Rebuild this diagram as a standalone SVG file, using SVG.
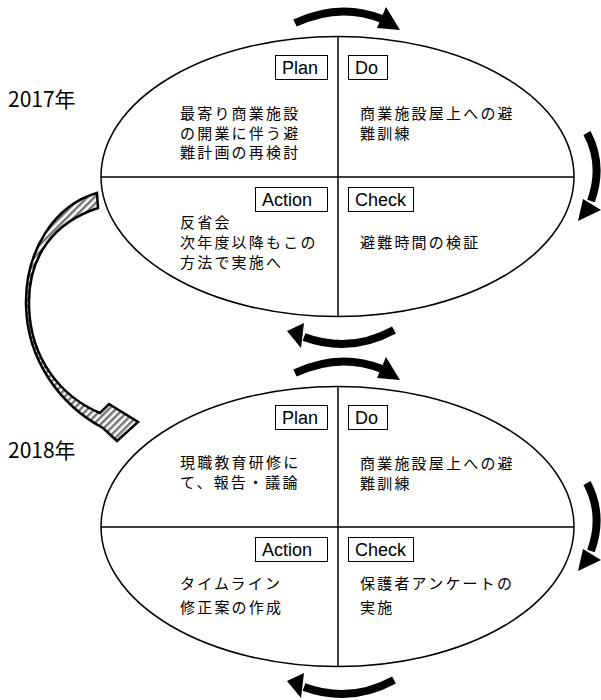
<svg xmlns="http://www.w3.org/2000/svg" width="601" height="700" viewBox="0 0 601 700">
<style>
.ell{fill:#fff;stroke:#000;stroke-width:1.5}
.div{stroke:#000;stroke-width:1.5;fill:none}
.box{fill:#fff;stroke:#000;stroke-width:1}
.lbl{font-family:"Liberation Sans",Arial,sans-serif;font-size:18px;fill:#000}
.jp{font-family:"Noto Sans CJK JP","Noto Sans",sans-serif;font-size:15px;letter-spacing:2.2px;fill:#000}
.yr{font-family:"Noto Sans CJK JP","Noto Sans",sans-serif;font-size:21px;fill:#000}
.band{fill:none;stroke:#000;stroke-width:8}
.head{fill:#000}
</style>
<defs>
<pattern id="hatch" width="5" height="5" patternUnits="userSpaceOnUse" patternTransform="rotate(45)">
<rect width="5" height="5" fill="#fff"/>
<rect width="2.5" height="5" fill="#777"/>
</pattern>
<g id="cycleArrows">
<path class="band" d="M295,23 Q340,2 382,19"/>
<polygon class="head" points="386,7 400,30 377,28"/>
<path class="band" d="M587,133 Q604,165 591,201"/>
<polygon class="head" points="583,199 601,210 578,221"/>
<path class="band" d="M394,330 Q350,354 304,337"/>
<polygon class="head" points="304,323 287,331 301,348"/>
</g>
</defs>

<g id="connectors">
<use href="#cycleArrows"/>
<use href="#cycleArrows" transform="translate(0,350)"/>
<path id="year-arrow" d="M97,193 C55,205 25,250 26,305 C27,360 60,405 103,428 L117,441 L138,422 L109,404 L100,413 C62,397 30,360 29,305 C28,255 55,222 98,208 Z" fill="url(#hatch)" stroke="#000" stroke-width="2.5" stroke-linejoin="miter"/>
</g>

<g id="year2017"><text class="yr" x="8" y="107">2017年</text></g>
<g id="year2018"><text class="yr" x="8" y="458">2018年</text></g>

<g id="cycle2017">
<ellipse class="ell" cx="337.5" cy="176.5" rx="236.5" ry="140"/>
<line class="div" x1="101" y1="177" x2="574" y2="177"/>
<line class="div" x1="338" y1="36.5" x2="338" y2="316.5"/>
<g id="plan2017">
<rect class="box" x="275.5" y="55.5" width="52" height="24"/>
<text class="lbl" x="282" y="74">Plan</text>
<text class="jp" x="180" y="119">最寄り商業施設</text>
<text class="jp" x="180" y="139">の開業に伴う避</text>
<text class="jp" x="180" y="158">難計画の再検討</text>
</g>
<g id="do2017">
<rect class="box" x="348.5" y="55.5" width="39" height="24"/>
<text class="lbl" x="355" y="74">Do</text>
<text class="jp" x="360" y="119">商業施設屋上への避</text>
<text class="jp" x="360" y="139">難訓練</text>
</g>
<g id="action2017">
<rect class="box" x="255.5" y="187.5" width="72" height="24"/>
<text class="lbl" x="262" y="206">Action</text>
<text class="jp" x="180" y="228">反省会</text>
<text class="jp" x="180" y="248">次年度以降もこの</text>
<text class="jp" x="180" y="268">方法で実施へ</text>
</g>
<g id="check2017">
<rect class="box" x="348.5" y="187.5" width="65" height="24"/>
<text class="lbl" x="355" y="206">Check</text>
<text class="jp" x="360" y="248">避難時間の検証</text>
</g>
</g>

<g id="cycle2018">
<ellipse class="ell" cx="337.5" cy="526.5" rx="236.5" ry="140"/>
<line class="div" x1="101" y1="527" x2="574" y2="527"/>
<line class="div" x1="338" y1="386.5" x2="338" y2="666.5"/>
<g id="plan2018">
<rect class="box" x="275.5" y="405.5" width="52" height="24"/>
<text class="lbl" x="282" y="424">Plan</text>
<text class="jp" x="180" y="468">現職教育研修に</text>
<text class="jp" x="180" y="488">て、報告・議論</text>
</g>
<g id="do2018">
<rect class="box" x="348.5" y="405.5" width="39" height="24"/>
<text class="lbl" x="355" y="424">Do</text>
<text class="jp" x="360" y="469">商業施設屋上への避</text>
<text class="jp" x="360" y="489">難訓練</text>
</g>
<g id="action2018">
<rect class="box" x="255.5" y="537.5" width="72" height="24"/>
<text class="lbl" x="262" y="556">Action</text>
<text class="jp" x="180" y="589">タイムライン</text>
<text class="jp" x="180" y="613">修正案の作成</text>
</g>
<g id="check2018">
<rect class="box" x="348.5" y="537.5" width="65" height="24"/>
<text class="lbl" x="355" y="556">Check</text>
<text class="jp" x="360" y="589">保護者アンケートの</text>
<text class="jp" x="360" y="613">実施</text>
</g>
</g>
</svg>
